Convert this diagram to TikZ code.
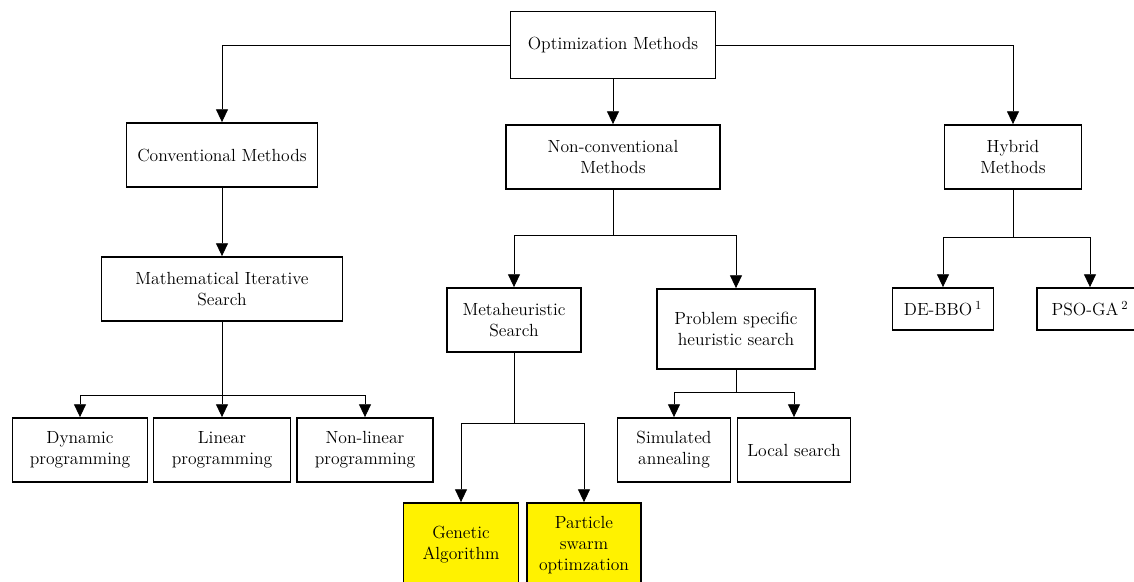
\documentclass[tikz,border=0pt]{standalone}
\usepackage{tikz}
\usetikzlibrary{arrows.meta,positioning,calc}

\begin{document}
\begin{tikzpicture}[
    x=0.025cm, y=-0.025cm,
    font=\fontsize{12.5}{15}\selectfont,
    method/.style={rectangle, draw, line width=1.3pt, align=center, inner sep=2pt, minimum height=1.6cm},
    leaf/.style={method, fill=yellow},
    arrow/.style={-{Triangle[length=3.2mm, width=3mm]}, line width=0.6pt},
    link/.style={line width=0.6pt}
]
\useasboundingbox (0,0) rectangle (1134,581);

% Root
\node[method, minimum width=5.125cm, minimum height=1.675cm] (opt) at (613,45) {Optimization Methods};

% First level
\node[method, minimum width=4.775cm] (conv) at (222,155) {Conventional Methods};
\node[method, minimum width=5.35cm] (nonconv) at (613,157) {Non-conventional\\Methods};
\node[method, minimum width=3.425cm] (hyb) at (1013,157) {Hybrid\\Methods};

% Second level
\node[method, minimum width=6.025cm] (math) at (222,289) {Mathematical Iterative\\Search};
\node[method, minimum width=3.35cm] (meta) at (514,320) {Metaheuristic\\Search};
\node[method, minimum width=3.95cm, minimum height=2cm] (prob) at (736,329) {Problem specific\\heuristic search};
\node[method, minimum width=2.525cm, minimum height=1.05cm] (debbo) at (943,309) {DE-BBO\,\textsuperscript{1}};
\node[method, minimum width=2.65cm, minimum height=1.05cm] (psoga) at (1090,309) {PSO-GA\,\textsuperscript{2}};

% Third level
\node[method, minimum width=3.375cm] (dyn) at (80,450) {Dynamic\\programming};
\node[method, minimum width=3.425cm] (lin) at (222,450) {Linear\\programming};
\node[method, minimum width=3.4cm] (nonlin) at (365,450) {Non-linear\\programming};
\node[method, minimum width=2.825cm] (sim) at (674,450) {Simulated\\annealing};
\node[method, minimum width=2.825cm] (local) at (794,450) {Local search};
\node[leaf, minimum width=2.875cm, minimum height=2.1cm] (ga) at (461,545) {Genetic\\Algorithm};
\node[leaf, minimum width=2.85cm, minimum height=2.1cm] (pso) at (584,545) {Particle\\swarm\\optimzation};

% Bus points
\coordinate (mathbus) at (222,395);
\coordinate (nonconvbus) at (613,235);
\coordinate (hybbus) at (1013,237);
\coordinate (metabus) at (514,423);
\coordinate (probbus) at (736,392);

% Connectors
\draw[arrow] (opt.west) -| (conv.north);
\draw[arrow] (opt) -- (nonconv);
\draw[arrow] (opt.east) -| (hyb.north);
\draw[arrow] (conv) -- (math);

\draw[link] (math) -- (mathbus);
\draw[arrow] (mathbus) -| (dyn.north);
\draw[arrow] (mathbus) -- (lin);
\draw[arrow] (mathbus) -| (nonlin.north);

\draw[link] (nonconv) -- (nonconvbus);
\draw[arrow] (nonconvbus) -| (meta.north);
\draw[arrow] (nonconvbus) -| (prob.north);

\draw[link] (hyb) -- (hybbus);
\draw[arrow] (hybbus) -| (debbo.north);
\draw[arrow] (hybbus) -| (psoga.north);

\draw[link] (meta) -- (metabus);
\draw[arrow] (metabus) -| (ga.north);
\draw[arrow] (metabus) -| (pso.north);

\draw[link] (prob) -- (probbus);
\draw[arrow] (probbus) -| (sim.north);
\draw[arrow] (probbus) -| (local.north);
\end{tikzpicture}
\end{document}
